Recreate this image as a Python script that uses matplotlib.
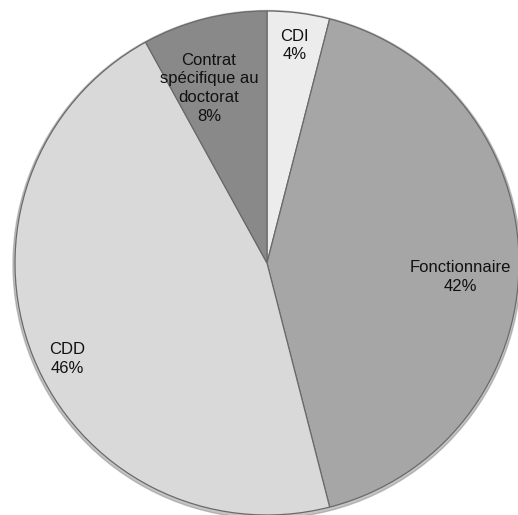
import numpy as np
import matplotlib
matplotlib.use("Agg")
from matplotlib import pyplot as plt

# Données du graphique (sens horaire depuis le haut)
labels = ["CDI", "Fonctionnaire", "CDD", "Contrat\nspécifique au\ndoctorat"]
values = [4, 42, 46, 8]
colors = ["#ececec", "#a6a6a6", "#d9d9d9", "#898989"]
# distance radiale des étiquettes (fraction du rayon) et décalage angulaire
label_r = [0.87, 0.77, 0.88, 0.73]
label_dtheta = [0, -4, 4, 4]

plt.rcParams['font.family'] = ['Liberation Sans', 'DejaVu Sans']

fig = plt.figure(figsize=(5.18, 5.15), dpi=100)
ax = fig.add_axes([0, 0, 1, 1])

# ombre légère sous le disque
shadow = plt.Circle((0.0, -0.006), 1.008, color="#8a8a8a", alpha=0.5, zorder=0)
ax.add_patch(shadow)

wedges, _ = ax.pie(values, colors=colors, startangle=90, counterclock=False,
                   radius=1.0,
                   wedgeprops=dict(edgecolor="#6a6a6a", linewidth=0.9))

for w, lab, v, r, dt in zip(wedges, labels, values, label_r, label_dtheta):
    w.set_zorder(2)
    mid = np.deg2rad((w.theta1 + w.theta2) / 2 + dt)
    ax.text(r * np.cos(mid), r * np.sin(mid), "%s\n%d%%" % (lab, v),
            ha="center", va="center", fontsize=12, color="#111111",
            linespacing=1.33, zorder=3)

ax.set_aspect("auto")
ax.set_xlim(-267 / 252, (518 - 267) / 252)
ax.set_ylim(-(515 - 263) / 252, 263 / 252)
ax.axis("off")

fig.savefig("out.png", dpi=100, facecolor="white")
